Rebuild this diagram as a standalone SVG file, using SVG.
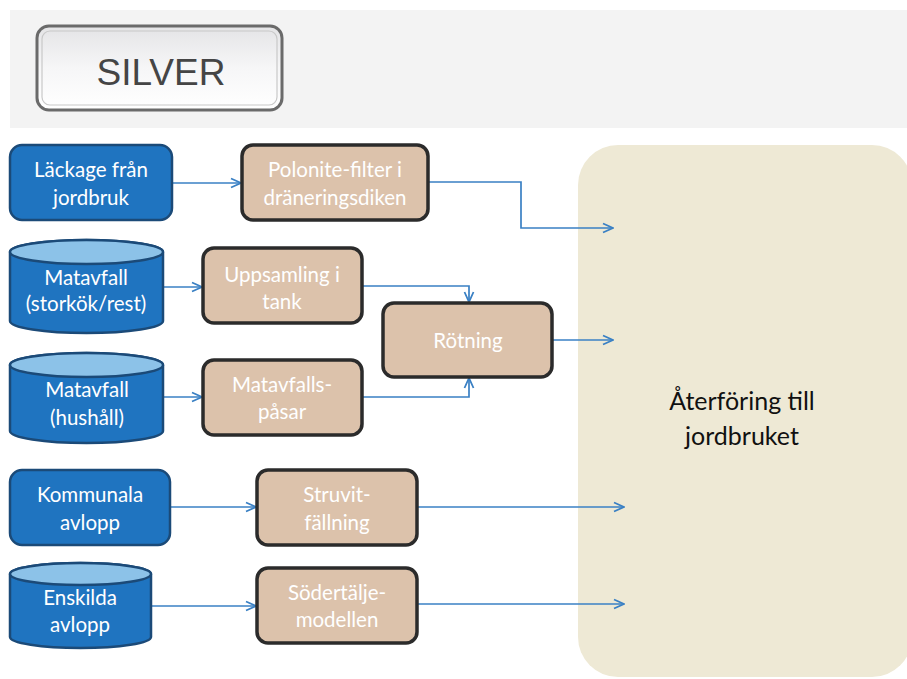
<svg xmlns="http://www.w3.org/2000/svg" width="907" height="679" viewBox="0 0 907 679">
<style>
.src{fill:#1f74c0;stroke:#1b4a78;stroke-width:2.5}
.cap{fill:#8cc2e8;stroke:#1b4a78;stroke-width:2.5}
.proc{fill:#dcc2ab;stroke:#2b2b2b;stroke-width:3.5}
.t{font-family:Lato,"Open Sans",sans-serif;font-size:20.5px;fill:#ffffff;text-anchor:middle}
.c{fill:none;stroke:#3a80c4;stroke-width:1.7}
</style>
<defs>
<marker id="ah" viewBox="0 0 12 12" refX="11" refY="6" markerWidth="12" markerHeight="12" markerUnits="userSpaceOnUse" orient="auto">
<path d="M1,1.5 L11,6 L1,10.5" fill="none" stroke="#3a80c4" stroke-width="1.8"/>
</marker>
<linearGradient id="silv" x1="0" y1="0" x2="0" y2="1">
<stop offset="0" stop-color="#e4e4e6"/>
<stop offset="0.5" stop-color="#f6f6f7"/>
<stop offset="1" stop-color="#ffffff"/>
</linearGradient>
</defs>
<rect width="907" height="679" fill="#ffffff"/>
<rect x="10" y="10" width="897" height="118" fill="#f3f3f3"/>
<g id="silver">
<rect x="37" y="26" width="245" height="84" rx="12" fill="url(#silv)" stroke="#6a6a6a" stroke-width="3"/>
<rect x="42" y="31" width="235" height="74" rx="8" fill="none" stroke="#c8c8c8" stroke-width="1.2"/>
<text x="161" y="85" font-family="'Liberation Sans',Arial,sans-serif" font-size="37" fill="#454545" text-anchor="middle">SILVER</text>
</g>
<g id="target">
<rect x="578" y="145" width="334" height="532" rx="40" fill="#eee9d5"/>
<text x="742" y="410" font-family="Lato,'Open Sans',sans-serif" font-size="25" fill="#111" text-anchor="middle">Återföring till</text>
<text x="742" y="445" font-family="Lato,'Open Sans',sans-serif" font-size="25" fill="#111" text-anchor="middle">jordbruket</text>
</g>
<g id="connectors">
<path class="c" d="M172,183 H241" marker-end="url(#ah)"/>
<path class="c" d="M428,182 H521 V228 H613" marker-end="url(#ah)"/>
<path class="c" d="M163,287 H202" marker-end="url(#ah)"/>
<path class="c" d="M362,286 H469 V302" marker-end="url(#ah)"/>
<path class="c" d="M163,397 H202" marker-end="url(#ah)"/>
<path class="c" d="M362,397 H469 V378" marker-end="url(#ah)"/>
<path class="c" d="M552,340 H613" marker-end="url(#ah)"/>
<path class="c" d="M170,507 H256" marker-end="url(#ah)"/>
<path class="c" d="M417,507 H624" marker-end="url(#ah)"/>
<path class="c" d="M151,606 H256" marker-end="url(#ah)"/>
<path class="c" d="M417,604 H624" marker-end="url(#ah)"/>
</g>
<g id="lackage">
<rect class="src" x="10" y="145" width="162" height="75" rx="12"/>
<text class="t" x="91" y="177">Läckage från</text>
<text class="t" x="91" y="205">jordbruk</text>
</g>
<g id="polonite">
<rect class="proc" x="242" y="145" width="186" height="75" rx="11"/>
<text class="t" x="335" y="177">Polonite-filter i</text>
<text class="t" x="335" y="205">dräneringsdiken</text>
</g>
<g id="matavfall-storkok">
<path class="src" d="M10,252 A76.5,12 0 0 1 163,252 V321 A76.5,12 0 0 1 10,321 Z"/>
<ellipse class="cap" cx="86.5" cy="252" rx="76.5" ry="12"/>
<text class="t" x="86" y="285">Matavfall</text>
<text class="t" x="86" y="311">(storkök/rest)</text>
</g>
<g id="uppsamling">
<rect class="proc" x="203" y="248" width="159" height="75" rx="11"/>
<text class="t" x="282" y="282">Uppsamling i</text>
<text class="t" x="282" y="309">tank</text>
</g>
<g id="rotning">
<rect class="proc" x="383" y="303" width="169" height="74" rx="11"/>
<text class="t" x="468" y="348">Rötning</text>
</g>
<g id="matavfall-hushall">
<path class="src" d="M10,365 A76.5,12 0 0 1 163,365 V431 A76.5,12 0 0 1 10,431 Z"/>
<ellipse class="cap" cx="86.5" cy="365" rx="76.5" ry="12"/>
<text class="t" x="87" y="397">Matavfall</text>
<text class="t" x="87" y="425">(hushåll)</text>
</g>
<g id="matavfallspasar">
<rect class="proc" x="203" y="360" width="159" height="75" rx="11"/>
<text class="t" x="282" y="392">Matavfalls-</text>
<text class="t" x="282" y="419">påsar</text>
</g>
<g id="kommunala">
<rect class="src" x="10" y="470" width="160" height="75" rx="12"/>
<text class="t" x="90" y="502">Kommunala</text>
<text class="t" x="90" y="530">avlopp</text>
</g>
<g id="struvit">
<rect class="proc" x="257" y="470" width="160" height="75" rx="11"/>
<text class="t" x="337" y="502">Struvit-</text>
<text class="t" x="337" y="530">fällning</text>
</g>
<g id="enskilda">
<path class="src" d="M10,574 A70.5,11 0 0 1 151,574 V637 A70.5,11 0 0 1 10,637 Z"/>
<ellipse class="cap" cx="80.5" cy="574" rx="70.5" ry="11"/>
<text class="t" x="80" y="605">Enskilda</text>
<text class="t" x="80" y="632">avlopp</text>
</g>
<g id="sodertalje">
<rect class="proc" x="257" y="568" width="160" height="75" rx="11"/>
<text class="t" x="337" y="600">Södertälje-</text>
<text class="t" x="337" y="627">modellen</text>
</g>
</svg>
